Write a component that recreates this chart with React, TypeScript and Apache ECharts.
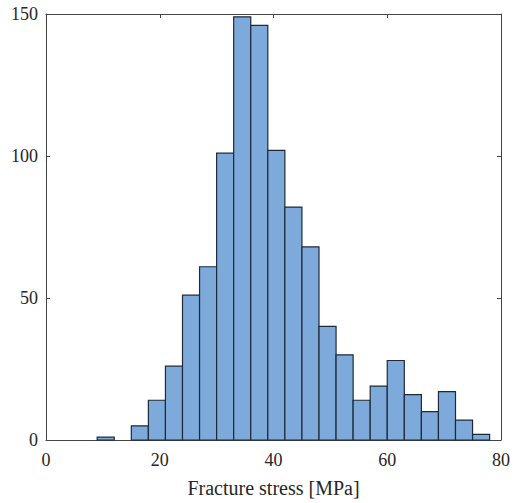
import React, { useEffect, useRef } from "react";
import * as echarts from "echarts";

const binEdges = [9, 12, 15, 18, 21, 24, 27, 30, 33, 36, 39, 42, 45, 48, 51, 54, 57, 60, 63, 66, 69, 72, 75, 78];
const counts = [1, 0, 5, 14, 26, 51, 61, 101, 149, 146, 102, 82, 68, 40, 30, 14, 19, 28, 16, 10, 17, 7, 2];
const xTicks = [0, 20, 40, 60, 80];
const yTicks = [0, 50, 100, 150];
const xLabel = "Fracture stress [MPa]";

const FONT = "'Liberation Serif', 'Times New Roman', serif";
const AXIS_COLOR = "#444";
const TEXT_COLOR = "#262626";

export default function App() {
  const ref = useRef<HTMLDivElement>(null);
  useEffect(() => {
    if (!ref.current) return;
    const chart = echarts.init(ref.current, undefined, { renderer: "svg" });
    const data = counts.map((c, i) => [binEdges[i], binEdges[i + 1], c]).filter((d) => d[2] > 0);
    const baseAxisLine = { show: true, onZero: false, lineStyle: { color: AXIS_COLOR, width: 1 } };
    const tick = { show: true, inside: true, length: 4, lineStyle: { color: AXIS_COLOR } };
    chart.setOption({
      animation: false,
      backgroundColor: "#fff",
      grid: { left: 46, top: 14, right: 18, bottom: 61, containLabel: false },
      xAxis: [
        {
          type: "value",
          min: xTicks[0],
          max: xTicks[xTicks.length - 1],
          interval: 20,
          position: "bottom",
          axisLine: baseAxisLine,
          axisTick: tick,
          axisLabel: { color: TEXT_COLOR, fontFamily: FONT, fontSize: 18, margin: 11 },
          splitLine: { show: false },
          name: xLabel,
          nameLocation: "middle",
          nameGap: 38,
          nameTextStyle: { color: TEXT_COLOR, fontFamily: FONT, fontSize: 20 },
        },
        {
          type: "value",
          min: xTicks[0],
          max: xTicks[xTicks.length - 1],
          interval: 20,
          position: "top",
          axisLine: baseAxisLine,
          axisTick: tick,
          axisLabel: { show: false },
          splitLine: { show: false },
        },
      ],
      yAxis: [
        {
          type: "value",
          min: yTicks[0],
          max: yTicks[yTicks.length - 1],
          interval: 50,
          position: "left",
          axisLine: baseAxisLine,
          axisTick: tick,
          axisLabel: { color: TEXT_COLOR, fontFamily: FONT, fontSize: 18, margin: 8 },
          splitLine: { show: false },
        },
        {
          type: "value",
          min: yTicks[0],
          max: yTicks[yTicks.length - 1],
          interval: 50,
          position: "right",
          axisLine: baseAxisLine,
          axisTick: tick,
          axisLabel: { show: false },
          splitLine: { show: false },
        },
      ],
      series: [
        {
          type: "custom",
          xAxisIndex: 0,
          yAxisIndex: 0,
          data,
          encode: { x: [0, 1], y: 2 },
          renderItem: (params: any, api: any) => {
            const x0 = api.value(0);
            const x1 = api.value(1);
            const c = api.value(2);
            const p0 = api.coord([x0, c]);
            const p1 = api.coord([x1, 0]);
            return {
              type: "rect",
              shape: { x: p0[0], y: p0[1], width: p1[0] - p0[0], height: p1[1] - p0[1] },
              style: { fill: "#7eaadb", stroke: "#1e2a36", lineWidth: 1.2 },
            };
          },
        },
      ],
    });
    return () => chart.dispose();
  }, []);
  return (
    <div
      ref={ref}
      style={{ position: "absolute", left: 0, top: 0, width: 519, height: 503 }}
    />
  );
}
